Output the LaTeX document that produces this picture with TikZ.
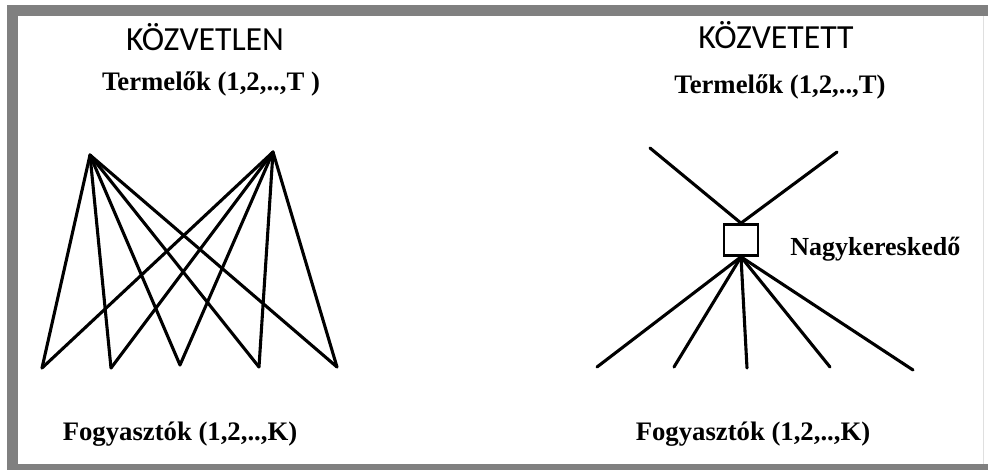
\documentclass[tikz,border=0pt]{standalone}
\usepackage{fontspec}
\setmainfont{Liberation Serif}
\newfontfamily\headfont{Carlito}

\begin{document}
\begin{tikzpicture}[x=0.025cm, y=-0.025cm, every node/.style={inner sep=0pt},
	link/.style={line width=2.2pt, line cap=round},
	head/.style={font=\headfont\fontsize{24}{28}\selectfont},
	lbl/.style={font=\bfseries\fontsize{19}{22}\selectfont},
	frame/.style={fill=gray}]
	\useasboundingbox (0,0) rectangle (988,470);
	% frame
	\fill[frame] (7,5) rectangle (988,16);
	\fill[frame] (7,5) rectangle (18,470);
	\fill[frame] (7,464) rectangle (988,470);
	\draw[gray!25, line width=0.6pt] (983,16) -- (983,464);
	% direct
	\node[head] (dirtitle) at (205,37) {KÖZVETLEN};
	\node[lbl] (dirprod) at (211,84) {Termelők (1,2,..,T )};
	\node[lbl] (dircons) at (180,434) {Fogyasztók (1,2,..,K)};
	\coordinate (a1) at (90,155);
	\coordinate (a2) at (273,152);
	\coordinate (b1) at (42,368);
	\coordinate (b2) at (111,368);
	\coordinate (b3) at (180,365);
	\coordinate (b4) at (259,367);
	\coordinate (b5) at (337,367);
	\foreach \i in {1,...,5} {
		\draw[link] (a1) -- (b\i);
		\draw[link] (a2) -- (b\i);
	}
	% indirect
	\node[head] (indtitle) at (776,35) {KÖZVETETT};
	\node[lbl] (indprod) at (780,87) {Termelők (1,2,..,T)};
	\node[lbl] (indcons) at (753,434) {Fogyasztók (1,2,..,K)};
	\node[draw, line width=1.8pt, minimum width=0.85cm, minimum height=0.78cm] (ws) at (741,240) {};
	\node[font=\bfseries\fontsize{18.5}{22}\selectfont, anchor=west] (wslbl) at (790,249) {Nagykereskedő};
	\coordinate (r1) at (650,148);
	\coordinate (r2) at (837,152);
	\draw[link] (r1) -- (ws.north);
	\draw[link] (r2) -- (ws.north);
	\coordinate (c1) at (597,367);
	\coordinate (c2) at (674,367);
	\coordinate (c3) at (747,368);
	\coordinate (c4) at (830,367);
	\coordinate (c5) at (913,370);
	\foreach \i in {1,...,5}
		\draw[link] (ws.south) -- (c\i);
\end{tikzpicture}
\end{document}
